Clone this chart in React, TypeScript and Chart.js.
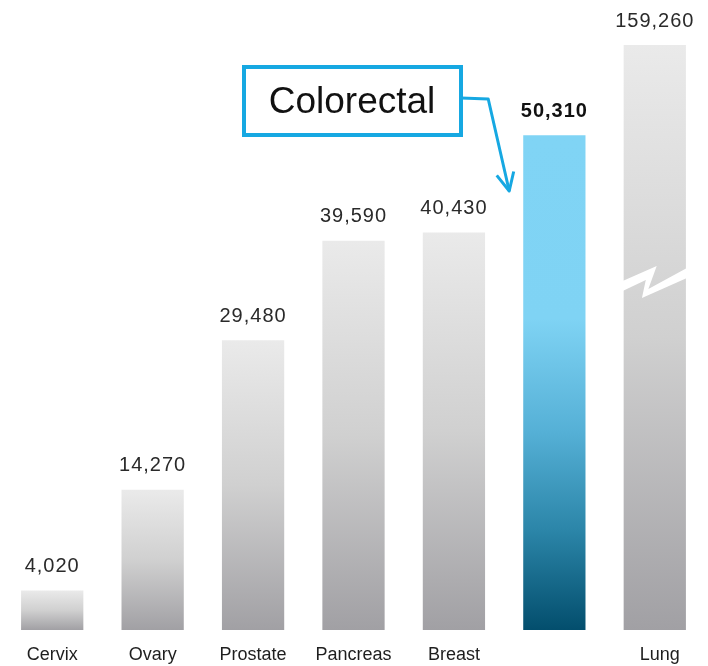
import React, { useEffect, useRef } from "react";
import { Chart, registerables } from "chart.js";

Chart.register(...registerables);

const categories = ["Cervix", "Ovary", "Prostate", "Pancreas", "Breast", "Colorectal", "Lung"];
const deaths = [4020, 14270, 29480, 39590, 40430, 50310, 159260];
const valueLabels = ["4,020", "14,270", "29,480", "39,590", "40,430", "50,310", "159,260"];
const highlighted = "Colorectal";
const brokenBar = "Lung";
const axisMax = 59500;

const FONT = "'Liberation Sans', Arial, sans-serif";

const decorPlugin = {
  id: "decor",
  afterDatasetsDraw(chart: any) {
    const ctx = chart.ctx;
    const meta = chart.getDatasetMeta(0);
    const area = chart.chartArea;
    ctx.save();
    // break on lung bar
    const li = categories.indexOf(brokenBar);
    const lb = meta.data[li];
    if (lb) {
      const x0 = lb.x - lb.width / 2 - 1;
      const x1 = lb.x + lb.width / 2 + 1;
      const w = x1 - x0;
      ctx.fillStyle = "#ffffff";
      ctx.beginPath();
      ctx.moveTo(x0, 281);
      ctx.lineTo(x0 + w * 0.53, 266);
      ctx.lineTo(x0 + w * 0.40, 289);
      ctx.lineTo(x1, 268);
      ctx.lineTo(x1, 278);
      ctx.lineTo(x0 + w * 0.30, 298);
      ctx.lineTo(x0 + w * 0.36, 280);
      ctx.lineTo(x0, 291);
      ctx.closePath();
      ctx.fill();
    }
    // value labels
    ctx.textAlign = "center";
    ctx.textBaseline = "middle";
    meta.data.forEach((bar: any, i: number) => {
      const top = Math.max(bar.y, area.top);
      const isHi = categories[i] === highlighted;
      ctx.font = `${isHi ? "bold " : ""}20px ${FONT}`;
      (ctx as any).letterSpacing = "1px";
      ctx.fillStyle = isHi ? "#111111" : "#2a2a2a";
      ctx.fillText(valueLabels[i], bar.x, top - 24);
      (ctx as any).letterSpacing = "0px";
      if (categories[i] !== highlighted) {
        ctx.font = `18px ${FONT}`;
        ctx.fillStyle = "#1e1e1e";
        ctx.fillText(categories[i], bar.x + (categories[i] === brokenBar ? 5 : 0), 655);
      }
    });
    // callout box
    ctx.strokeStyle = "#16a8e2";
    ctx.lineWidth = 4;
    ctx.strokeRect(244, 67, 217, 68);
    ctx.font = `37px ${FONT}`;
    ctx.fillStyle = "#111111";
    ctx.textAlign = "center";
    ctx.fillText(highlighted, 352, 103);
    // connector
    const hb = meta.data[categories.indexOf(highlighted)];
    const tipX = hb.x - hb.width / 2 - 14;
    const tipY = 191;
    const sx = tipX - 21, sy = 99;
    ctx.lineWidth = 3;
    ctx.lineJoin = "round";
    ctx.beginPath();
    ctx.moveTo(461, 98);
    ctx.lineTo(sx, sy);
    ctx.lineTo(tipX, tipY);
    ctx.stroke();
    const ang = Math.atan2(tipY - sy, tipX - sx);
    const len = 20, spread = 0.45;
    ctx.beginPath();
    ctx.moveTo(tipX - len * Math.cos(ang - spread), tipY - len * Math.sin(ang - spread));
    ctx.lineTo(tipX, tipY);
    ctx.lineTo(tipX - len * Math.cos(ang + spread), tipY - len * Math.sin(ang + spread));
    ctx.stroke();
    ctx.restore();
  },
};

export default function App() {
  const ref = useRef<HTMLCanvasElement>(null);
  useEffect(() => {
    if (!ref.current) return;
    const chart = new Chart(ref.current, {
      type: "bar",
      data: {
        labels: categories,
        datasets: [
          {
            data: deaths,
            barPercentage: 0.62,
            categoryPercentage: 1,
            borderWidth: 0,
            backgroundColor: (c: any) => {
              const ch = c.chart;
              const area = ch.chartArea;
              const ys = ch.scales.y;
              if (!area || !ys) return "#cccccc";
              const v = deaths[c.dataIndex];
              const top = Math.max(ys.getPixelForValue(v), area.top);
              const bottom = ys.getPixelForValue(0);
              const g = ch.ctx.createLinearGradient(0, top, 0, bottom);
              if (categories[c.dataIndex] === highlighted) {
                g.addColorStop(0, "#80d4f5");
                g.addColorStop(0.37, "#7fd3f4");
                g.addColorStop(0.6, "#55b0d6");
                g.addColorStop(0.8, "#2b85a8");
                g.addColorStop(1, "#034e6d");
              } else {
                g.addColorStop(0, "#eaeaea");
                g.addColorStop(0.5, "#d0d0d0");
                g.addColorStop(1, "#a1a0a4");
              }
              return g;
            },
          },
        ],
      },
      options: {
        animation: false,
        responsive: false,
        layout: { padding: { left: 2, right: 3, top: 45, bottom: 36 } },
        plugins: { legend: { display: false }, tooltip: { enabled: false } },
        scales: {
          x: { display: false },
          y: { display: false, min: 0, max: axisMax },
        },
      },
      plugins: [decorPlugin],
    });
    return () => chart.destroy();
  }, []);
  return (
    <div style={{ position: "absolute", left: 0, top: 0, width: 708, height: 666, background: "#fff" }}>
      <canvas ref={ref} width={708} height={666} style={{ width: 708, height: 666 }} />
    </div>
  );
}
